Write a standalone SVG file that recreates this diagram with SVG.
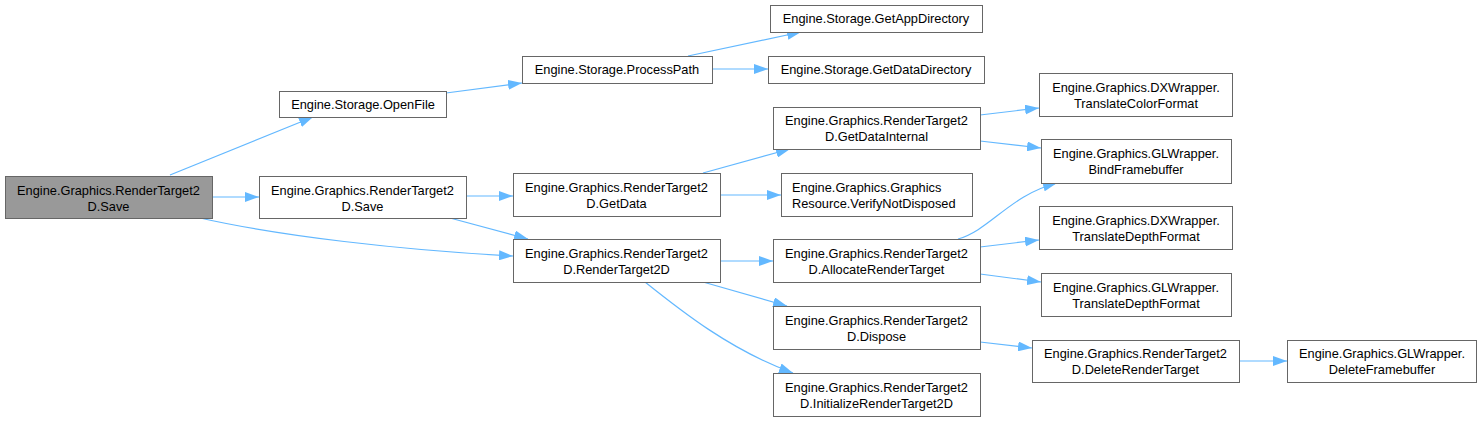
<svg xmlns="http://www.w3.org/2000/svg" width="1482" height="421" viewBox="0 0 1482 421">
<style>
.node rect{fill:#ffffff;stroke:#666666;stroke-width:1}
.node.cur rect{fill:#999999}
.node text{font-family:"Liberation Sans",Arial,sans-serif;font-size:12.8px;fill:#000000;text-anchor:middle}
.edges path{fill:none;stroke:#63b8ff;stroke-width:1.2;marker-end:url(#ah)}
</style>
<defs>
<marker id="ah" markerUnits="userSpaceOnUse" markerWidth="14" markerHeight="10" refX="14" refY="5" orient="auto">
<path d="M0,0 L14,5 L0,10 z" fill="#63b8ff"/>
</marker>
</defs>
<rect width="1482" height="421" fill="#ffffff"/>
<g class="edges">
<path d="M170,175 L313,117"/>
<path d="M212,197 L259,197"/>
<path d="M200,218 C 280,236 400,250 513,256"/>
<path d="M446,93 L522,83"/>
<path d="M688,56 L801,32"/>
<path d="M712,69 L768,69"/>
<path d="M466,196 L513,196"/>
<path d="M450,218 L528,239"/>
<path d="M703,173 L790,149"/>
<path d="M720,195 L781,195"/>
<path d="M980,115 L1039,108"/>
<path d="M980,141 L1041,148"/>
<path d="M720,261 L773,261"/>
<path d="M703,282 L787,306"/>
<path d="M645,282 C 680,310 730,350 793,373"/>
<path d="M958,239 C 990,230 1010,195 1057,183"/>
<path d="M980,247 L1039,240"/>
<path d="M980,274 L1041,282"/>
<path d="M980,342 L1032,348"/>
<path d="M1239,361 L1287,361"/>
</g>
<g id="n0" class="node cur"><rect x="5.5" y="176.5" width="207" height="42"/><text x="108.5" y="194.5">Engine.Graphics.RenderTarget2</text><text x="108.5" y="210.5">D.Save</text></g>
<g id="n1" class="node"><rect x="279.5" y="91.5" width="167" height="26"/><text x="363" y="108.5">Engine.Storage.OpenFile</text></g>
<g id="n2" class="node"><rect x="259.5" y="176.5" width="207" height="42"/><text x="362.5" y="194.5">Engine.Graphics.RenderTarget2</text><text x="362.5" y="210.5">D.Save</text></g>
<g id="n3" class="node"><rect x="522.5" y="56.5" width="190" height="27"/><text x="617" y="74">Engine.Storage.ProcessPath</text></g>
<g id="n4" class="node"><rect x="770.5" y="5.5" width="212" height="27"/><text x="876" y="23">Engine.Storage.GetAppDirectory</text></g>
<g id="n5" class="node"><rect x="768.5" y="56.5" width="216" height="27"/><text x="876" y="74">Engine.Storage.GetDataDirectory</text></g>
<g id="n6" class="node"><rect x="773.5" y="107.5" width="207" height="42"/><text x="876.5" y="125">Engine.Graphics.RenderTarget2</text><text x="876.5" y="141">D.GetDataInternal</text></g>
<g id="n7" class="node"><rect x="513.5" y="173.5" width="207" height="43"/><text x="616.5" y="192">Engine.Graphics.RenderTarget2</text><text x="616.5" y="208">D.GetData</text></g>
<g id="n8" class="node"><rect x="781.5" y="173.5" width="191" height="43"/><text x="792" y="192" style="text-anchor:start">Engine.Graphics.Graphics</text><text x="792" y="208" style="text-anchor:start">Resource.VerifyNotDisposed</text></g>
<g id="n9" class="node"><rect x="513.5" y="239.5" width="207" height="43"/><text x="616.5" y="257.5">Engine.Graphics.RenderTarget2</text><text x="616.5" y="273.5">D.RenderTarget2D</text></g>
<g id="n10" class="node"><rect x="773.5" y="239.5" width="207" height="43"/><text x="876.5" y="257.5">Engine.Graphics.RenderTarget2</text><text x="876.5" y="273.5">D.AllocateRenderTarget</text></g>
<g id="n11" class="node"><rect x="773.5" y="306.5" width="207" height="43"/><text x="876.5" y="324.5">Engine.Graphics.RenderTarget2</text><text x="876.5" y="340.5">D.Dispose</text></g>
<g id="n12" class="node"><rect x="773.5" y="373.5" width="207" height="43"/><text x="876.5" y="391.5">Engine.Graphics.RenderTarget2</text><text x="876.5" y="407.5">D.InitializeRenderTarget2D</text></g>
<g id="n13" class="node"><rect x="1039.5" y="73.5" width="193" height="43"/><text x="1136" y="91.5">Engine.Graphics.DXWrapper.</text><text x="1136" y="107.5">TranslateColorFormat</text></g>
<g id="n14" class="node"><rect x="1041.5" y="139.5" width="190" height="44"/><text x="1136" y="157.5">Engine.Graphics.GLWrapper.</text><text x="1136" y="173.5">BindFramebuffer</text></g>
<g id="n15" class="node"><rect x="1039.5" y="206.5" width="193" height="43"/><text x="1136" y="224.5">Engine.Graphics.DXWrapper.</text><text x="1136" y="240.5">TranslateDepthFormat</text></g>
<g id="n16" class="node"><rect x="1041.5" y="273.5" width="190" height="43"/><text x="1136" y="291.5">Engine.Graphics.GLWrapper.</text><text x="1136" y="307.5">TranslateDepthFormat</text></g>
<g id="n17" class="node"><rect x="1032.5" y="340.5" width="207" height="42"/><text x="1135.5" y="358">Engine.Graphics.RenderTarget2</text><text x="1135.5" y="374">D.DeleteRenderTarget</text></g>
<g id="n18" class="node"><rect x="1287.5" y="340.5" width="189" height="42"/><text x="1382" y="358">Engine.Graphics.GLWrapper.</text><text x="1382" y="374">DeleteFramebuffer</text></g>
</svg>
